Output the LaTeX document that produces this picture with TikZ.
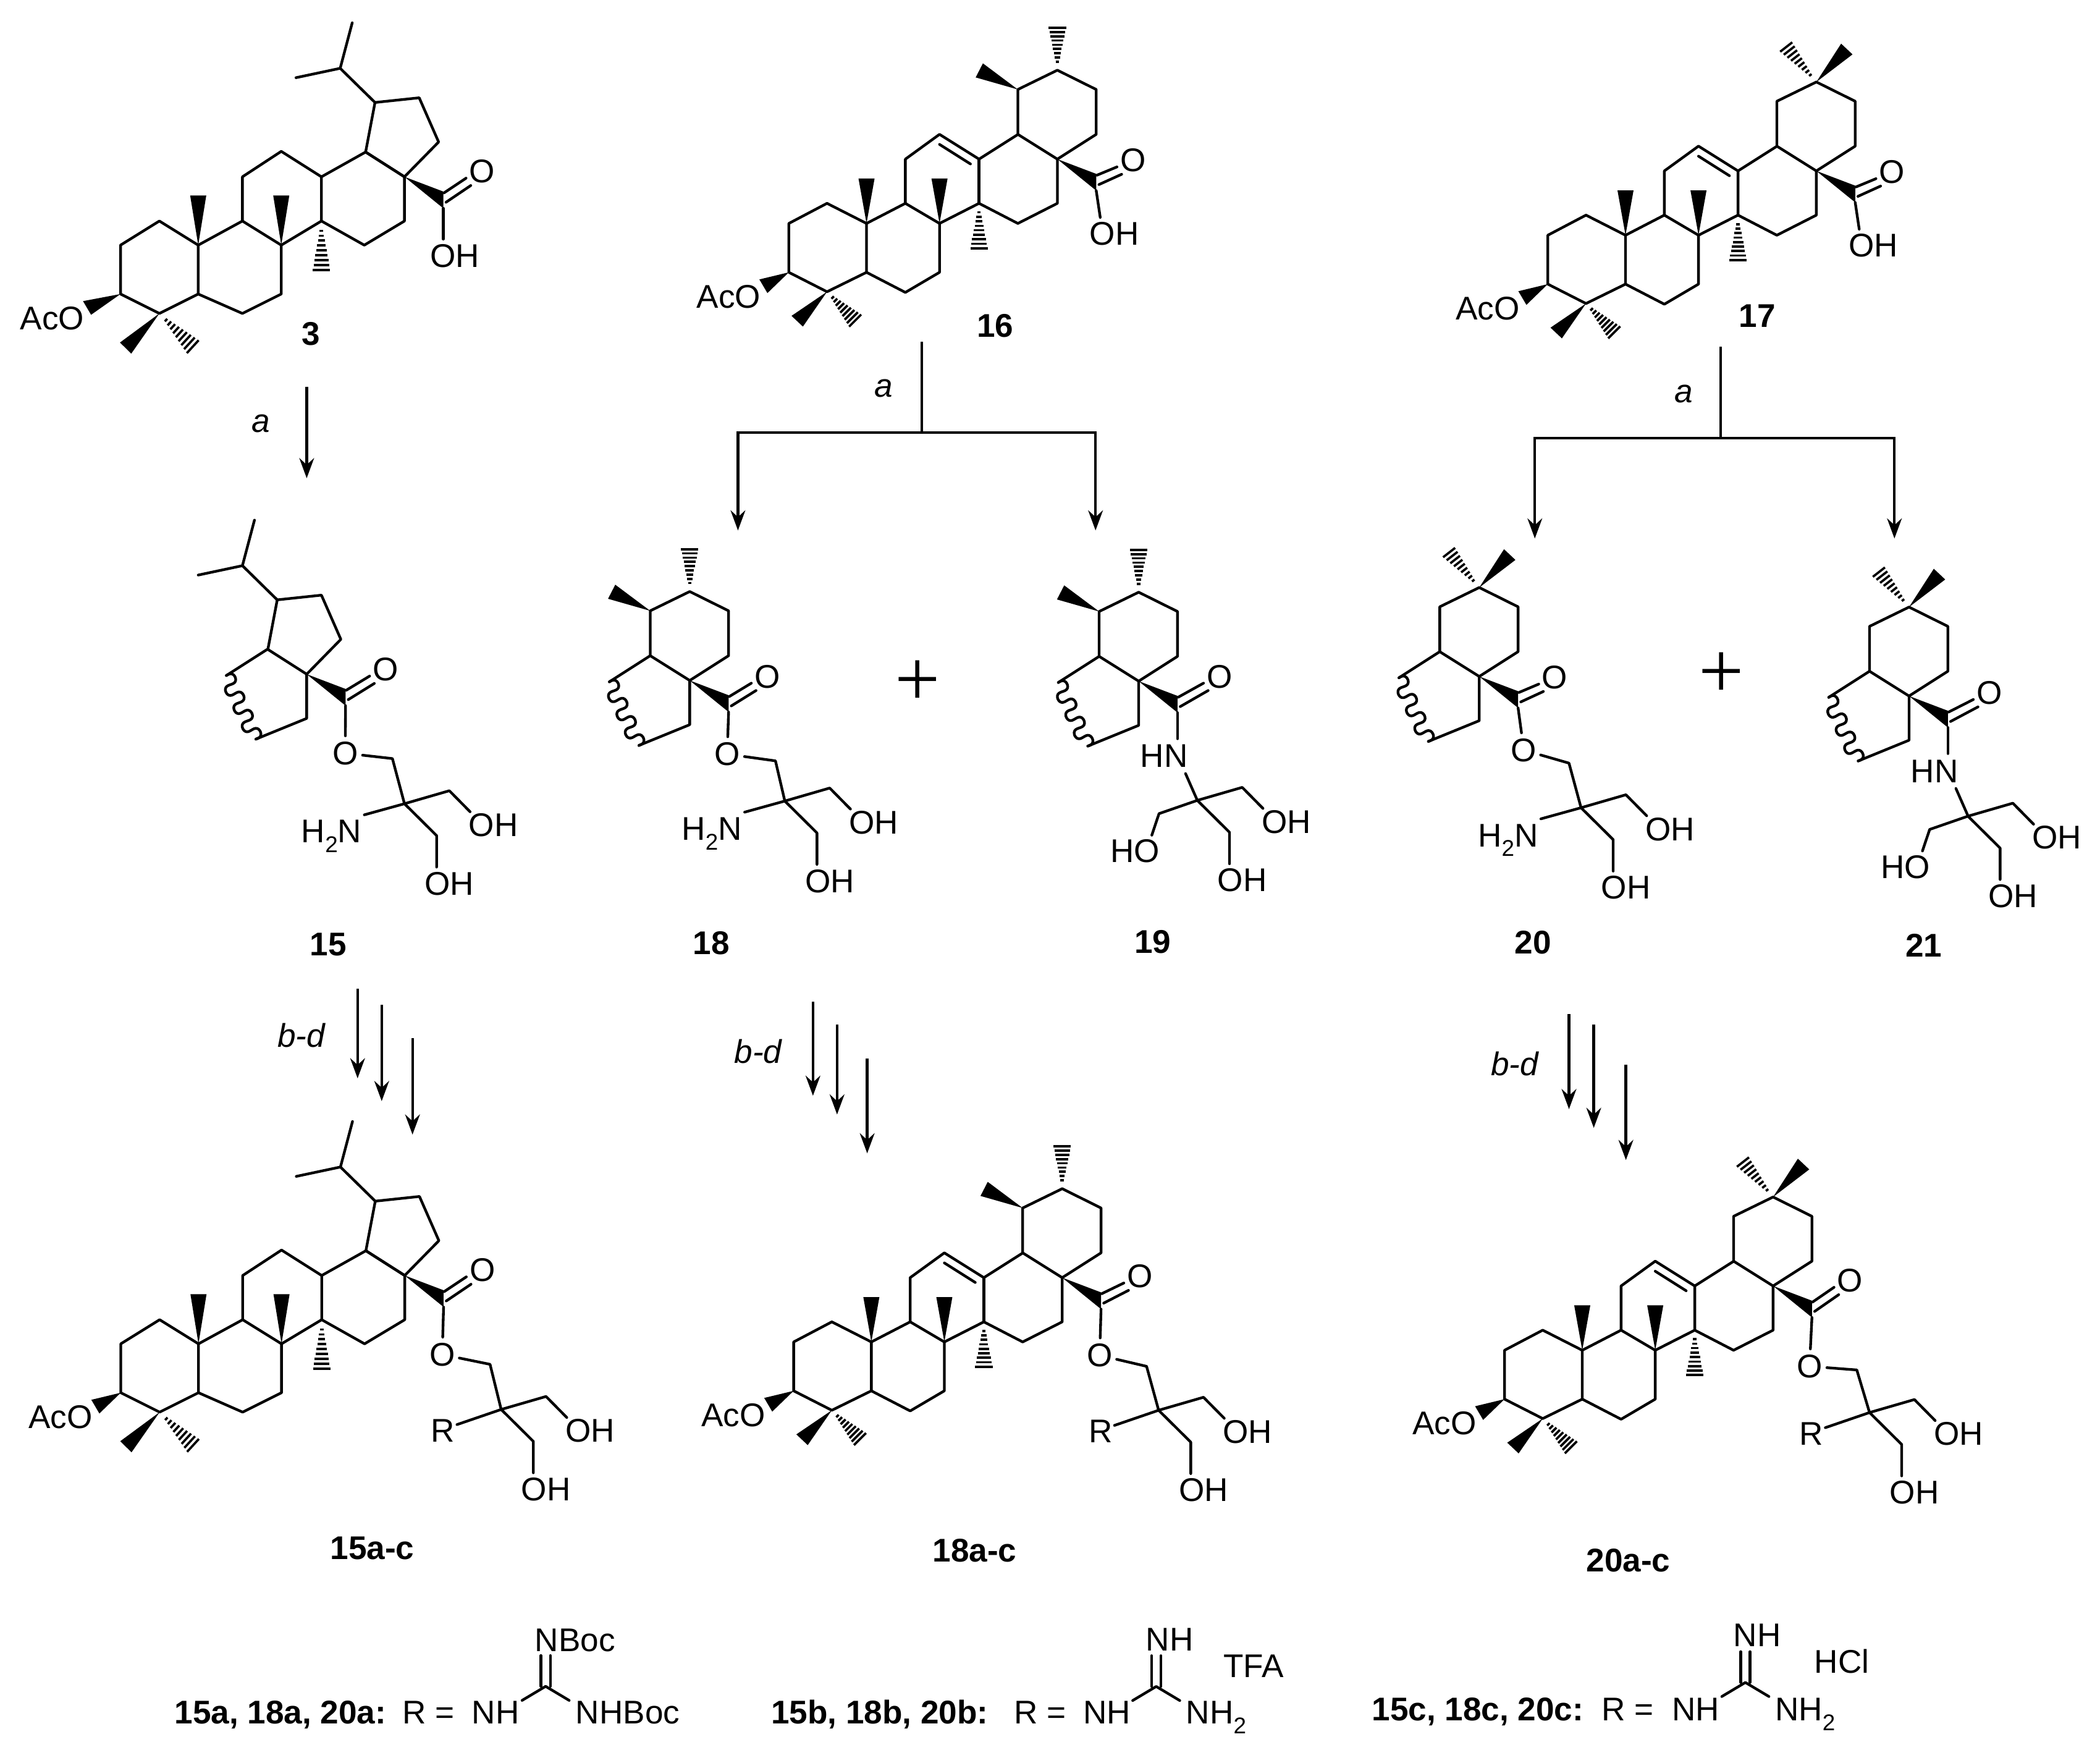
\documentclass[tikz,border=0pt]{standalone}
\usepackage{fontspec}
\setmainfont{Liberation Sans}
\newfontfamily\plusfont{Liberation Serif}
\usetikzlibrary{arrows.meta,calc}

\newcommand{\atomfont}{\fontsize{12.25}{12.25}\selectfont}
\newcommand{\lowtwo}{\raisebox{-0.3em}{\fontsize{8.5}{8.5}\selectfont 2}}

\tikzset{
	bond/.style={line width=1pt, line cap=round, line join=round},
	wedgebond/.style={fill=black},
	atom/.style={inner sep=0pt, font=\atomfont},
	cmpd/.style={inner sep=0pt, font=\atomfont\bfseries},
	cond/.style={inner sep=0pt, font=\atomfont\itshape},
	plussign/.style={inner sep=0pt, font=\plusfont\fontsize{30}{30}\selectfont},
	rxn/.style={line width=1pt, -{Stealth[length=7.5pt, width=5.5pt, inset=2.5pt]}}
}

\newcommand{\hashw}[3]{\foreach \hpos in {0.2,0.3,...,1.01}{\draw[line width=0.85pt] ($#1!\hpos!#2$) -- ($#1!\hpos!#3$);}}

\newcommand{\lupcore}{
	\draw[bond] (-58,0) -- (-29,-18) -- (0,0) -- (0,36.5) -- (-29,51) -- (-58,36.5) -- cycle;
	\draw[bond] (0,0) -- (33,-18) -- (62,0) -- (62,36.5) -- (33,51) -- (0,36.5);
	\draw[bond] (33,-18) -- (33,-51) -- (62,-70) -- (92,-51) -- (92,-18) -- (62,0);
	\draw[bond] (92,-51) -- (125,-69.5) -- (154,-51) -- (154,-18) -- (124,0) -- (92,-18);
	\fill[wedgebond] (0,0) -- (-6,-37) -- (6,-37) -- cycle;
	\fill[wedgebond] (62,0) -- (56,-37) -- (68,-37) -- cycle;
	\hashw{(92,-18)}{(85.5,18.5)}{(98.5,18.5)}
	\fill[wedgebond] (-29,51) -- (-58.4,72.7) -- (-50,81) -- cycle;
	\hashw{(-29,51)}{(-8.5,80.6)}{(0.3,71)}
}
\newcommand{\olecore}{
	\draw[bond] (-58,0) -- (-29.5,-15) -- (0,0) -- (0,36.5) -- (-29.5,51) -- (-58,36.5) -- cycle;
	\draw[bond] (0,0) -- (29,-15) -- (54.5,0) -- (54.5,36.5) -- (29,51.5) -- (0,36.5);
	\draw[bond] (29,-15) -- (29,-48) -- (54.5,-66.5) -- (84,-48) -- (84,-15) -- (54.5,0);
	\draw[bond] (54.5,-59) -- (77.6,-44.4);
	\draw[bond] (84,-48) -- (113,-66.4);
	\draw[bond] (84,-15) -- (113,0) -- (142.5,-15) -- (142.5,-48);
	\draw[bond] (84,-48) -- (84,-15);
	\fill[wedgebond] (0,0) -- (-6,-33.5) -- (6,-33.5) -- cycle;
	\fill[wedgebond] (54.5,0) -- (48.5,-33.5) -- (60.5,-33.5) -- cycle;
	\hashw{(84,-15)}{(77.5,18.5)}{(90.5,18.5)}
	\fill[wedgebond] (-29.5,51) -- (-56,69) -- (-47.5,77) -- cycle;
	\hashw{(-29.5,51)}{(-13,77)}{(-4,68)}
}
\newcommand{\acetoxy}[2]{
	\fill[wedgebond] (-58,36.5) -- (#2-80,41.8) -- (#2-74,52) -- cycle;
	\node[atom] (#1) at (#2-103,54.6) {AcO};
}
\newcommand{\lupring}{
	\draw[bond] (0,0) -- (-29,-18.5) -- (-22,-55.5) -- (11,-59) -- (25.5,-26) -- cycle;
	\draw[bond] (-22,-55.5) -- (-48,-81) -- (-81,-74);
	\draw[bond] (-48,-81) -- (-39,-115);
}
\newcommand{\ering}{
	\draw[bond] (0,0) -- (-29.5,-18.5) -- (-29.5,-52) -- (0,-66.4) -- (29,-52) -- (29,-18.5) -- cycle;
}
\newcommand{\ursmethyl}{
	\fill[wedgebond] (-29.5,-52) -- (-55.6,-71.5) -- (-61,-61) -- cycle;
	\hashw{(0,-66.4)}{(-6.5,-98)}{(6.5,-98)}
}
\newcommand{\olemethyl}{
	\fill[wedgebond] (0,-66.4) -- (18.5,-95) -- (27,-87) -- cycle;
	\hashw{(0,-66.4)}{(-27,-89)}{(-18,-96)}
}
\newcommand{\cutring}{
	\draw[bond] (-29.5,-18.5) -- (-60,1);
	\draw[bond] plot[samples=90, domain=0:1] ({-60+0.42*(52.3*\x-1.5*sin(2520*\x))+0.908*5.5*sin(1260*\x)},{1+0.908*(52.3*\x-1.5*sin(2520*\x))-0.42*5.5*sin(1260*\x)});
	\draw[bond] (-38,48.5) -- (0,33) -- (0,0);
}
\newcommand{\carbonyl}[3]{
	\fill[wedgebond] (0,0) -- (29,11) -- (29,23.5) -- cycle;
	\draw[bond] (29.5,12) -- (#2-12,#3+5);
	\draw[bond] (31,19) -- (#2-8.5,#3+10.5);
	\node[atom] (#1) at (#2,#3) {O};
}
\newcommand{\acidarm}[5]{
	\draw[bond] (29,23.5) -- (#2,#3);
	\node[atom] (#1) at (#4,#5) {OH};
}
\newcommand{\esterarm}[7]{
	\node[atom] (#1) at (#2,#3) {O};
	\draw[bond] (29,23.5) -- ($(#2,#3)!6.5pt!(29,23.5)$);
	\draw[bond] ($(#2,#3)!6.5pt!(#4,#5)$) -- (#4,#5) -- (#6,#7);
}
\newcommand{\amidearm}[1]{
	\node[atom] (#1) at (19,56) {HN};
	\draw[bond] (29,23.5) -- (29,43);
	\draw[bond] (35,69) -- (43.8,89);
}
\newcommand{\tris}[4]{
	\begin{scope}[shift={(#2,#3)}]
		\draw[bond] (0,0) -- (33.5,-9.7) -- (49,6);
		\draw[bond] (0,0) -- (24,23.8) -- (24,47.3);
		\node[atom] (#1oha) at (66.5,16) {OH};
		\node[atom] (#1ohb) at (33.5,59.7) {OH};
		#4{#1}
	\end{scope}
}
\newcommand{\aminoarm}[1]{
	\draw[bond] (0,0) -- (-30,8.3);
	\node[atom, anchor=base] (#1nh) at (-54.5,29) {H\lowtwo N};
}
\newcommand{\rarm}[1]{
	\draw[bond] (0,0) -- (-33,11.3);
	\node[atom] (#1r) at (-43.4,15.7) {R};
}
\newcommand{\hoarm}[1]{
	\draw[bond] (0,0) -- (-28.6,9.9) -- (-34,26);
	\node[atom] (#1ho) at (-46.6,38) {HO};
}
\newcommand{\guan}[3]{
	\draw[bond] (#2-3.5,#3) -- (#2-3.5,#3-23);
	\draw[bond] (#2+3.5,#3) -- (#2+3.5,#3-23);
	\draw[bond] (#2-17.6,#3+10.5) -- (#2,#3) -- (#2+17.6,#3+10.5);
}

\begin{document}
\begin{tikzpicture}[x=0.5pt, y=-0.5pt]
	\useasboundingbox (0,0) rectangle (1568,1306);

	\begin{scope}[shift={(148,183)}]
		\lupcore
		\acetoxy{c3ac}{-6}
		\begin{scope}[shift={(154,-51)}]
			\lupring
			\carbonyl{c3o}{58}{-4}
			\acidarm{c3oh}{29}{46.5}{37.5}{59}
		\end{scope}
	\end{scope}
	\begin{scope}[shift={(647,166.8)}]
		\olecore
		\acetoxy{c16ac}{0}
		\begin{scope}[shift={(142.5,-48)}]
			\ering \ursmethyl
			\carbonyl{c16o}{56.5}{0.8}
			\acidarm{c16oh}{32}{43.5}{42.5}{55.5}
		\end{scope}
	\end{scope}
	\begin{scope}[shift={(1213.7,175.6)}]
		\olecore
		\acetoxy{c17ac}{0}
		\begin{scope}[shift={(142.5,-48)}]
			\ering \olemethyl
			\carbonyl{c17o}{56.5}{0.8}
			\acidarm{c17oh}{32}{43.5}{42.5}{55.5}
		\end{scope}
	\end{scope}

	\begin{scope}[shift={(229,503.3)}]
		\lupring \cutring
		\carbonyl{c15o}{59}{-3.6}
		\esterarm{c15e}{28.8}{59}{64}{63}{73}{96.7}
		\tris{c15}{73}{96.7}{\aminoarm}
	\end{scope}
	\begin{scope}[shift={(515,508)}]
		\ering \ursmethyl \cutring
		\carbonyl{c18o}{58}{-3}
		\esterarm{c18e}{28}{55}{64}{60}{71}{90}
		\tris{c18}{71}{90}{\aminoarm}
	\end{scope}
	\begin{scope}[shift={(850.2,508.5)}]
		\ering \ursmethyl \cutring
		\carbonyl{c19o}{60.4}{-3.5}
		\amidearm{c19n}
		\tris{c19}{43.8}{89}{\hoarm}
	\end{scope}
	\begin{scope}[shift={(1104.5,505)}]
		\ering \olemethyl \cutring
		\carbonyl{c20o}{56.4}{0.7}
		\esterarm{c20e}{33.3}{55}{67}{64.7}{76}{98}
		\tris{c20}{76}{98}{\aminoarm}
	\end{scope}
	\begin{scope}[shift={(1425.4,519.6)}]
		\ering \olemethyl \cutring
		\carbonyl{c21o}{60}{-2.4}
		\amidearm{c21n}
		\tris{c21}{44}{89.7}{\hoarm}
	\end{scope}

	\begin{scope}[shift={(148.2,1003.2)}]
		\lupcore
		\acetoxy{d15ac}{0}
		\begin{scope}[shift={(154,-51)}]
			\lupring
			\carbonyl{d15o}{58}{-4}
			\esterarm{d15e}{28}{59}{63.7}{66.3}{72}{100}
			\tris{d15}{72}{100}{\rarm}
		\end{scope}
	\end{scope}
	\begin{scope}[shift={(650.6,1001.8)}]
		\olecore
		\acetoxy{d18ac}{0}
		\begin{scope}[shift={(142.5,-48)}]
			\ering \ursmethyl
			\carbonyl{d18o}{58}{-1}
			\esterarm{d18e}{28}{58}{63}{66.2}{72}{99}
			\tris{d18}{72}{99}{\rarm}
		\end{scope}
	\end{scope}
	\begin{scope}[shift={(1181.4,1008)}]
		\olecore
		\acetoxy{d20ac}{0}
		\begin{scope}[shift={(142.5,-48)}]
			\ering \olemethyl
			\carbonyl{d20o}{57.5}{-4}
			\esterarm{d20e}{27.2}{60}{62.5}{62.7}{72}{94.5}
			\tris{d20}{72}{94.5}{\rarm}
		\end{scope}
	\end{scope}

	\node[cmpd] (n3) at (232,249) {3};
	\node[cmpd] (n16) at (743,243) {16};
	\node[cmpd] (n17) at (1312,236) {17};
	\node[cmpd] (n15) at (245,705) {15};
	\node[cmpd] (n18) at (531,704) {18};
	\node[cmpd] (n19) at (860.8,703) {19};
	\node[cmpd] (n20) at (1144.7,703.4) {20};
	\node[cmpd] (n21) at (1436.4,705.8) {21};
	\node[cmpd] (n15ac) at (278,1155.9) {15a-c};
	\node[cmpd] (n18ac) at (727.7,1157.7) {18a-c};
	\node[cmpd] (n20ac) at (1215.8,1164.9) {20a-c};

	\node[plussign] (plusa) at (685,510) {+};
	\node[plussign] (plusb) at (1285.4,504) {+};

	\node[cond] (ca3) at (195,316) {a};
	\node[cond] (ca16) at (660,290) {a};
	\node[cond] (ca17) at (1257,294) {a};
	\node[cond] (cb15) at (225,773) {b-d};
	\node[cond] (cb18) at (566,785) {b-d};
	\node[cond] (cb20) at (1131,794) {b-d};

	\coordinate (s3) at (229,289);
	\coordinate (e3) at (229,357);
	\draw[rxn] (s3) -- (e3);

	\coordinate (s16) at (688.4,255);
	\coordinate (j16) at (688.4,323);
	\coordinate (l16) at (551,396);
	\coordinate (r16) at (818,396);
	\draw[line width=1pt] (s16) -- (j16);
	\draw[rxn] (j16) -| (l16);
	\draw[rxn] (j16) -| (r16);

	\coordinate (s17) at (1284.8,259);
	\coordinate (j17) at (1284.8,327);
	\coordinate (l17) at (1146,402);
	\coordinate (r17) at (1414.5,402);
	\draw[line width=1pt] (s17) -- (j17);
	\draw[rxn] (j17) -| (l17);
	\draw[rxn] (j17) -| (r17);

	\foreach \px/\ps/\pe [count=\i] in {267/738/805,285/750/822,308/775/847,607/748/818,625/765/832,647.5/790/861,1171.5/757/828,1190/765/842,1214/795/866}{
		\coordinate (ts\i) at (\px,\ps);
		\coordinate (te\i) at (\px,\pe);
		\draw[rxn] (ts\i) -- (te\i);
	}

	\node[cmpd, anchor=base west] (ra) at (130,1287) {15a, 18a, 20a:};
	\node[atom, anchor=base west] (rae) at (300,1287) {R =};
	\node[atom, anchor=base west] (ranh) at (352,1287) {NH};
	\node[atom, anchor=base west] (ranb) at (429.5,1287) {NHBoc};
	\node[atom, anchor=base west] (rant) at (399,1233) {NBoc};
	\guan{rac}{407.4}{1258.9}

	\node[cmpd, anchor=base west] (rb) at (575.5,1287) {15b, 18b, 20b:};
	\node[atom, anchor=base west] (rbe) at (757,1287) {R =};
	\node[atom, anchor=base west] (rbnh) at (808.5,1287) {NH};
	\node[atom, anchor=base west] (rbn) at (885.3,1287) {NH\lowtwo};
	\node[atom] (rbnt) at (873.3,1224) {NH};
	\node[atom] (rbt) at (936,1244) {TFA};
	\guan{rbc}{863.3}{1259}

	\node[cmpd, anchor=base west] (rc) at (1024,1284.5) {15c, 18c, 20c:};
	\node[atom, anchor=base west] (rce) at (1195.7,1284.5) {R =};
	\node[atom, anchor=base west] (rcnh) at (1248,1284.5) {NH};
	\node[atom, anchor=base west] (rcn) at (1325,1284.5) {NH\lowtwo};
	\node[atom] (rcnt) at (1312,1220.8) {NH};
	\node[atom] (rch) at (1375.2,1240) {HCl};
	\guan{rcc}{1303.2}{1256}
\end{tikzpicture}
\end{document}
